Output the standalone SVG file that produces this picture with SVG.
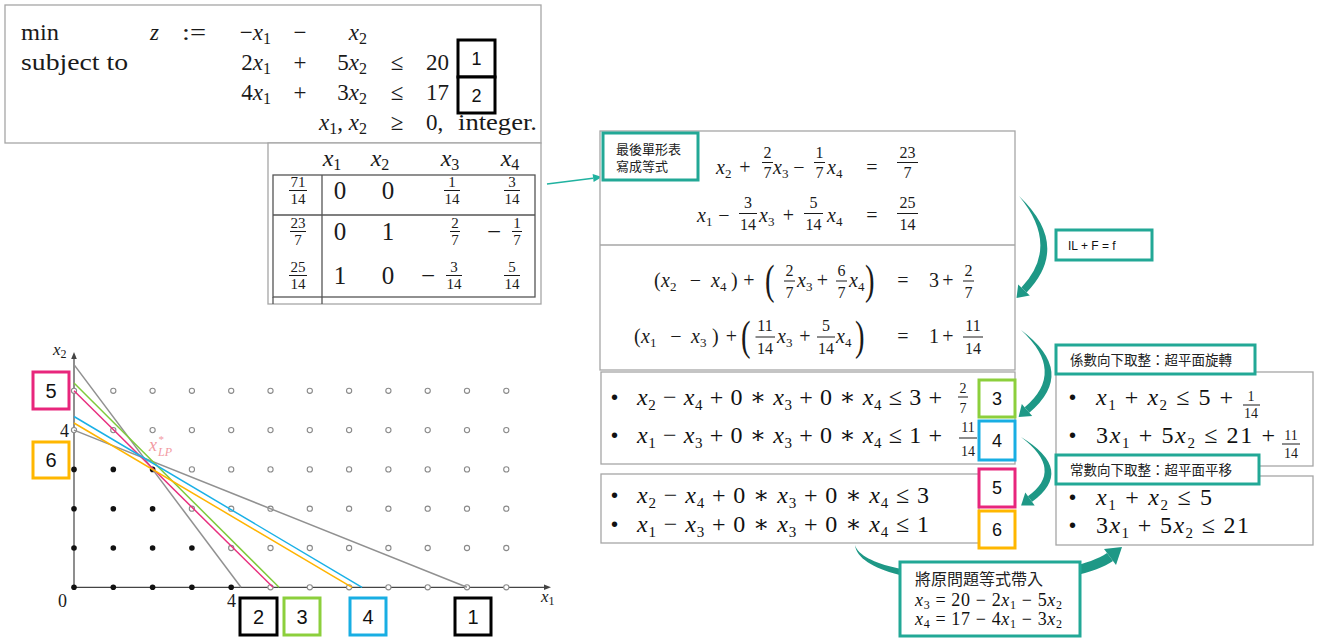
<svg xmlns="http://www.w3.org/2000/svg" width="1322" height="641" viewBox="0 0 1322 641">
<style>
.cm{font-family:"Liberation Serif","DejaVu Serif",serif;fill:#1a1a1a}
.it{font-style:italic}
.sans{font-family:"Liberation Sans",Arial,sans-serif;fill:#111}
.cjk{font-family:"Noto Sans CJK TC","Noto Sans CJK SC",sans-serif;fill:#222}
.gbox{fill:#fff;stroke:#a6a6a6;stroke-width:1.3}
.tbox{fill:#fff;stroke:#22a896;stroke-width:3}
.nb{fill:#fff;stroke-width:3}
.fb{stroke:#1a1a1a;stroke-width:1}
.tl{stroke:#555;stroke-width:1.3;fill:none}
.oc{fill:#fff;stroke:#8a8a8a;stroke-width:1.1}
.bc{fill:#111}
.arr{fill:#1e9886}
.bm{font-family:"Liberation Serif","DejaVu Serif",serif;font-size:24px;fill:#111}
.f20{font-size:20px}
</style>
<rect width="1322" height="641" fill="#fff"/>

<g id="connectors">
  <line x1="547" y1="184" x2="593" y2="178.2" stroke="#20b2a0" stroke-width="1.5"/>
  <polygon points="602,177 593.6,182.1 592.6,174.1" fill="#20b2a0"/>
  <path class="arr" d="M1019,196 Q1071.5,246 1026.6,292.4 L1021.4,287.6 Q1060.5,246 1019,196 Z"/>
  <polygon class="arr" points="1029.8,295.4 1018.2,284.6 1016.5,298"/>
  <path class="arr" d="M1021,330 Q1077.5,372 1029.3,412.7 L1024.7,407.3 Q1066.5,372 1021,330 Z"/>
  <polygon class="arr" points="1032.2,416.1 1021.8,403.9 1018.6,417.1"/>
  <path class="arr" d="M1021,437 Q1075.5,470 1032.1,501.8 L1027.9,496.2 Q1064.5,470 1021,437 Z"/>
  <polygon class="arr" points="1034.7,505.5 1025.3,492.5 1021.1,505.5"/>
  <path class="arr" d="M855,545 C860,592 1062,596 1113,561 L1107,553 C1058,586 866,583 855,545 Z"/>
  <polygon class="arr" points="1116,565 1104,549 1122,547"/>
</g>

<g id="lp-model">
  <rect x="5" y="5" width="536" height="138" class="gbox"/>
  <g class="cm" font-size="23">
    <text x="21" y="40" textLength="38" lengthAdjust="spacingAndGlyphs">min</text>
    <text x="150" y="40" class="it">z</text>
    <text x="182" y="40" textLength="24" lengthAdjust="spacingAndGlyphs">:=</text>
    <text x="271" y="40" text-anchor="end">−<tspan class="it">x</tspan><tspan font-size="16" dy="4">1</tspan></text>
    <text x="300" y="40" text-anchor="middle">−</text>
    <text x="367" y="40" text-anchor="end"><tspan class="it">x</tspan><tspan font-size="16" dy="4">2</tspan></text>
    <text x="21" y="70" textLength="107" lengthAdjust="spacingAndGlyphs">subject to</text>
    <text x="271" y="70" text-anchor="end">2<tspan class="it">x</tspan><tspan font-size="16" dy="4">1</tspan></text>
    <text x="300" y="70" text-anchor="middle">+</text>
    <text x="367" y="70" text-anchor="end">5<tspan class="it">x</tspan><tspan font-size="16" dy="4">2</tspan></text>
    <text x="397" y="70" text-anchor="middle">≤</text>
    <text x="426" y="70">20</text>
    <text x="271" y="100" text-anchor="end">4<tspan class="it">x</tspan><tspan font-size="16" dy="4">1</tspan></text>
    <text x="300" y="100" text-anchor="middle">+</text>
    <text x="367" y="100" text-anchor="end">3<tspan class="it">x</tspan><tspan font-size="16" dy="4">2</tspan></text>
    <text x="397" y="100" text-anchor="middle">≤</text>
    <text x="426" y="100">17</text>
    <text x="367" y="130" text-anchor="end"><tspan class="it">x</tspan><tspan font-size="16" dy="4">1</tspan><tspan dy="-4">, </tspan><tspan class="it">x</tspan><tspan font-size="16" dy="4">2</tspan></text>
    <text x="397" y="130" text-anchor="middle">≥</text>
    <text x="426" y="130">0,</text>
    <text x="458" y="130" textLength="79" lengthAdjust="spacingAndGlyphs">integer.</text>
  </g>
  <rect x="458" y="40" width="37" height="37" class="nb" stroke="#000"/>
  <text x="476.5" y="65" class="sans" font-size="18" text-anchor="middle">1</text>
  <rect x="458" y="77" width="37" height="36" class="nb" stroke="#000"/>
  <text x="476.5" y="102" class="sans" font-size="18" text-anchor="middle">2</text>
</g>

<g id="tableau">
  <rect x="268" y="143" width="273" height="161" class="gbox"/>
  <rect x="273" y="175" width="262" height="122" class="tl"/>
  <line x1="273" y1="215" x2="535" y2="215" class="tl"/>
  <line x1="322" y1="175" x2="322" y2="304" class="tl"/>
  <line x1="273" y1="297" x2="273" y2="304" class="tl"/>
  <g class="cm" font-size="24" text-anchor="middle">
    <text x="332" y="166"><tspan class="it">x</tspan><tspan font-size="16" dy="4">1</tspan></text>
    <text x="380" y="166"><tspan class="it">x</tspan><tspan font-size="16" dy="4">2</tspan></text>
    <text x="450" y="166"><tspan class="it">x</tspan><tspan font-size="16" dy="4">3</tspan></text>
    <text x="510" y="166"><tspan class="it">x</tspan><tspan font-size="16" dy="4">4</tspan></text>
  </g>
  <g class="cm" font-size="25" text-anchor="middle">
    <text x="340" y="199">0</text><text x="388" y="199">0</text>
    <text x="340" y="240">0</text><text x="388" y="240">1</text><text x="494" y="240">−</text>
    <text x="340" y="284">1</text><text x="388" y="284">0</text><text x="428" y="284">−</text>
  </g>
  <g class="cm" font-size="15" text-anchor="middle">
    <text x="298" y="187">71</text><text x="298" y="204">14</text>
    <text x="452" y="187">1</text><text x="452" y="204">14</text>
    <text x="512" y="187">3</text><text x="512" y="204">14</text>
    <text x="298" y="228">23</text><text x="298" y="245">7</text>
    <text x="455" y="228">2</text><text x="455" y="245">7</text>
    <text x="517" y="228">1</text><text x="517" y="245">7</text>
    <text x="298" y="272">25</text><text x="298" y="289">14</text>
    <text x="454" y="272">3</text><text x="454" y="289">14</text>
    <text x="512" y="272">5</text><text x="512" y="289">14</text>
  </g>
  <g class="fb">
    <line x1="289" y1="190.5" x2="307" y2="190.5"/><line x1="444" y1="190.5" x2="460" y2="190.5"/><line x1="504" y1="190.5" x2="520" y2="190.5"/>
    <line x1="290" y1="231.5" x2="306" y2="231.5"/><line x1="450" y1="231.5" x2="460" y2="231.5"/><line x1="512" y1="231.5" x2="522" y2="231.5"/>
    <line x1="289" y1="275.5" x2="307" y2="275.5"/><line x1="446" y1="275.5" x2="462" y2="275.5"/><line x1="504" y1="275.5" x2="520" y2="275.5"/>
  </g>
</g>

<g id="equations">
  <rect x="600" y="131" width="415" height="239" class="gbox"/>
  <line x1="600" y1="245" x2="1015" y2="245" stroke="#a6a6a6" stroke-width="1.3"/>
  <g class="cm f20">
    <text x="716" y="174"><tspan class="it">x</tspan><tspan font-size="13" dy="4">2</tspan></text>
    <text x="745" y="174" text-anchor="middle">+</text>
    <text x="773" y="174"><tspan class="it">x</tspan><tspan font-size="13" dy="4">3</tspan></text>
    <text x="799" y="174" text-anchor="middle">−</text>
    <text x="827" y="174"><tspan class="it">x</tspan><tspan font-size="13" dy="4">4</tspan></text>
    <text x="872" y="174" text-anchor="middle">=</text>
    <text x="697" y="222"><tspan class="it">x</tspan><tspan font-size="13" dy="4">1</tspan></text>
    <text x="724" y="222" text-anchor="middle">−</text>
    <text x="759" y="222"><tspan class="it">x</tspan><tspan font-size="13" dy="4">3</tspan></text>
    <text x="788.5" y="222" text-anchor="middle">+</text>
    <text x="827" y="222"><tspan class="it">x</tspan><tspan font-size="13" dy="4">4</tspan></text>
    <text x="872" y="222" text-anchor="middle">=</text>
    <text x="654" y="287">(</text>
    <text x="661" y="287"><tspan class="it">x</tspan><tspan font-size="13" dy="4">2</tspan></text>
    <text x="695.5" y="287" text-anchor="middle">−</text>
    <text x="711" y="287"><tspan class="it">x</tspan><tspan font-size="13" dy="4">4</tspan></text>
    <text x="731" y="287">)</text>
    <text x="749" y="287" text-anchor="middle">+</text>
    <text x="797" y="287"><tspan class="it">x</tspan><tspan font-size="13" dy="4">3</tspan></text>
    <text x="822.5" y="287" text-anchor="middle">+</text>
    <text x="849" y="287"><tspan class="it">x</tspan><tspan font-size="13" dy="4">4</tspan></text>
    <text x="903" y="287" text-anchor="middle">=</text>
    <text x="929" y="287">3</text>
    <text x="948" y="287" text-anchor="middle">+</text>
    <text x="634" y="343">(</text>
    <text x="641" y="343"><tspan class="it">x</tspan><tspan font-size="13" dy="4">1</tspan></text>
    <text x="676" y="343" text-anchor="middle">−</text>
    <text x="691" y="343"><tspan class="it">x</tspan><tspan font-size="13" dy="4">3</tspan></text>
    <text x="712" y="343">)</text>
    <text x="731.5" y="343" text-anchor="middle">+</text>
    <text x="777" y="343"><tspan class="it">x</tspan><tspan font-size="13" dy="4">3</tspan></text>
    <text x="805" y="343" text-anchor="middle">+</text>
    <text x="836" y="343"><tspan class="it">x</tspan><tspan font-size="13" dy="4">4</tspan></text>
    <text x="903" y="343" text-anchor="middle">=</text>
    <text x="929" y="343">1</text>
    <text x="948" y="343" text-anchor="middle">+</text>
  </g>
  <g class="cm" font-size="22">
    <text transform="translate(765,294) scale(1.3,1.9)">(</text>
    <text transform="translate(865,294) scale(1.3,1.9)">)</text>
    <text transform="translate(741,350) scale(1.3,1.9)">(</text>
    <text transform="translate(855,350) scale(1.3,1.9)">)</text>
  </g>
  <g class="cm" font-size="16" text-anchor="middle">
    <text x="767.5" y="158">2</text><text x="767.5" y="178">7</text>
    <text x="819.5" y="158">1</text><text x="819.5" y="178">7</text>
    <text x="907.5" y="158">23</text><text x="907.5" y="178">7</text>
    <text x="748" y="208">3</text><text x="748" y="230">14</text>
    <text x="813.5" y="208">5</text><text x="813.5" y="230">14</text>
    <text x="907.5" y="208">25</text><text x="907.5" y="230">14</text>
    <text x="789.5" y="276">2</text><text x="789.5" y="298">7</text>
    <text x="841.5" y="276">6</text><text x="841.5" y="298">7</text>
    <text x="968.5" y="276">2</text><text x="968.5" y="298">7</text>
    <text x="765" y="331">11</text><text x="765" y="354">14</text>
    <text x="826" y="331">5</text><text x="826" y="354">14</text>
    <text x="973" y="331">11</text><text x="973" y="354">14</text>
  </g>
  <g class="fb">
    <line x1="762" y1="162.5" x2="773" y2="162.5"/><line x1="814" y1="162.5" x2="825" y2="162.5"/><line x1="897" y1="162.5" x2="918" y2="162.5"/>
    <line x1="739" y1="213.5" x2="757" y2="213.5"/><line x1="804" y1="213.5" x2="823" y2="213.5"/><line x1="897" y1="213.5" x2="918" y2="213.5"/>
    <line x1="784" y1="281" x2="795" y2="281"/><line x1="836" y1="281" x2="847" y2="281"/><line x1="963" y1="281" x2="974" y2="281"/>
    <line x1="755.5" y1="337" x2="775" y2="337"/><line x1="817" y1="337" x2="835" y2="337"/><line x1="963" y1="337" x2="983" y2="337"/>
  </g>
</g>

<g id="label-final-tableau">
  <rect x="603" y="133" width="95" height="47" class="tbox"/>
  <text x="616" y="154" class="cjk" font-size="13">最後單形表</text>
  <text x="616" y="171" class="cjk" font-size="13">寫成等式</text>
</g>

<g id="label-il">
  <rect x="1056" y="230" width="96" height="30" class="tbox"/>
  <text x="1068" y="250" class="sans" font-size="12" fill="#222">IL + F = f</text>
</g>

<g id="cuts-fractional">
  <rect x="601" y="372" width="414" height="92" class="gbox"/>
  <text x="611" y="404" class="sans" font-size="20">•</text>
  <text x="611" y="442" class="sans" font-size="20">•</text>
  <text x="637" y="405" class="bm" textLength="305" lengthAdjust="spacing"><tspan class="it">x</tspan><tspan font-size="15" dy="5">2</tspan><tspan dy="-5"> − </tspan><tspan class="it">x</tspan><tspan font-size="15" dy="5">4</tspan><tspan dy="-5"> + 0 ∗ </tspan><tspan class="it">x</tspan><tspan font-size="15" dy="5">3</tspan><tspan dy="-5"> + 0 ∗ </tspan><tspan class="it">x</tspan><tspan font-size="15" dy="5">4</tspan><tspan dy="-5"> ≤ 3 +</tspan></text>
  <text x="637" y="443" class="bm" textLength="305" lengthAdjust="spacing"><tspan class="it">x</tspan><tspan font-size="15" dy="5">1</tspan><tspan dy="-5"> − </tspan><tspan class="it">x</tspan><tspan font-size="15" dy="5">3</tspan><tspan dy="-5"> + 0 ∗ </tspan><tspan class="it">x</tspan><tspan font-size="15" dy="5">3</tspan><tspan dy="-5"> + 0 ∗ </tspan><tspan class="it">x</tspan><tspan font-size="15" dy="5">4</tspan><tspan dy="-5"> ≤ 1 +</tspan></text>
  <g class="cm" font-size="14" text-anchor="middle">
    <text x="963" y="393">2</text><text x="963" y="413">7</text>
    <text x="968" y="432">11</text><text x="968" y="456">14</text>
  </g>
  <line x1="958" y1="397" x2="968" y2="397" class="fb"/>
  <line x1="959" y1="438" x2="977" y2="438" class="fb"/>
</g>

<g id="cuts-integer">
  <rect x="601" y="474" width="378" height="69" class="gbox"/>
  <text x="611" y="502" class="sans" font-size="20">•</text>
  <text x="611" y="531" class="sans" font-size="20">•</text>
  <text x="637" y="503" class="bm" textLength="292" lengthAdjust="spacing"><tspan class="it">x</tspan><tspan font-size="15" dy="5">2</tspan><tspan dy="-5"> − </tspan><tspan class="it">x</tspan><tspan font-size="15" dy="5">4</tspan><tspan dy="-5"> + 0 ∗ </tspan><tspan class="it">x</tspan><tspan font-size="15" dy="5">3</tspan><tspan dy="-5"> + 0 ∗ </tspan><tspan class="it">x</tspan><tspan font-size="15" dy="5">4</tspan><tspan dy="-5"> ≤ 3</tspan></text>
  <text x="637" y="532" class="bm" textLength="292" lengthAdjust="spacing"><tspan class="it">x</tspan><tspan font-size="15" dy="5">1</tspan><tspan dy="-5"> − </tspan><tspan class="it">x</tspan><tspan font-size="15" dy="5">3</tspan><tspan dy="-5"> + 0 ∗ </tspan><tspan class="it">x</tspan><tspan font-size="15" dy="5">3</tspan><tspan dy="-5"> + 0 ∗ </tspan><tspan class="it">x</tspan><tspan font-size="15" dy="5">4</tspan><tspan dy="-5"> ≤ 1</tspan></text>
</g>

<g id="tags-right">
  <rect x="979" y="380" width="36" height="37" class="nb" stroke="#8ccf3c"/>
  <text x="997" y="405" class="sans" font-size="18" text-anchor="middle">3</text>
  <rect x="979" y="421" width="36" height="39" class="nb" stroke="#18aee3"/>
  <text x="997" y="447" class="sans" font-size="18" text-anchor="middle">4</text>
  <rect x="979" y="469" width="36" height="38" class="nb" stroke="#e8267c"/>
  <text x="997" y="494" class="sans" font-size="18" text-anchor="middle">5</text>
  <rect x="979" y="511" width="36" height="37" class="nb" stroke="#ffb700"/>
  <text x="997" y="536" class="sans" font-size="18" text-anchor="middle">6</text>
</g>

<g id="cuts-x-rotated">
  <rect x="1056" y="372" width="257" height="94" class="gbox"/>
  <text x="1069" y="404" class="sans" font-size="20">•</text>
  <text x="1069" y="442" class="sans" font-size="20">•</text>
  <text x="1096" y="405" class="bm" textLength="137" lengthAdjust="spacing"><tspan class="it">x</tspan><tspan font-size="15" dy="5">1</tspan><tspan dy="-5"> + </tspan><tspan class="it">x</tspan><tspan font-size="15" dy="5">2</tspan><tspan dy="-5"> ≤ 5 +</tspan></text>
  <text x="1096" y="443" class="bm" textLength="179" lengthAdjust="spacing">3<tspan class="it">x</tspan><tspan font-size="15" dy="5">1</tspan><tspan dy="-5"> + 5</tspan><tspan class="it">x</tspan><tspan font-size="15" dy="5">2</tspan><tspan dy="-5"> ≤ 21 +</tspan></text>
  <g class="cm" font-size="14" text-anchor="middle">
    <text x="1251" y="401">1</text><text x="1251" y="418">14</text>
    <text x="1291" y="440">11</text><text x="1291" y="458">14</text>
  </g>
  <line x1="1243" y1="405" x2="1260" y2="405" class="fb"/>
  <line x1="1282" y1="444" x2="1300" y2="444" class="fb"/>
  <rect x="1056" y="345" width="199" height="29" class="tbox"/>
  <text x="1070" y="365" class="cjk" font-size="13.5">係數向下取整：超平面旋轉</text>
</g>

<g id="cuts-x-shifted">
  <rect x="1056" y="476" width="257" height="69" class="gbox"/>
  <text x="1069" y="504" class="sans" font-size="20">•</text>
  <text x="1069" y="532" class="sans" font-size="20">•</text>
  <text x="1096" y="505" class="bm" textLength="116" lengthAdjust="spacing"><tspan class="it">x</tspan><tspan font-size="15" dy="5">1</tspan><tspan dy="-5"> + </tspan><tspan class="it">x</tspan><tspan font-size="15" dy="5">2</tspan><tspan dy="-5"> ≤ 5</tspan></text>
  <text x="1096" y="533" class="bm" textLength="153" lengthAdjust="spacing">3<tspan class="it">x</tspan><tspan font-size="15" dy="5">1</tspan><tspan dy="-5"> + 5</tspan><tspan class="it">x</tspan><tspan font-size="15" dy="5">2</tspan><tspan dy="-5"> ≤ 21</tspan></text>
  <rect x="1056" y="455" width="203" height="29" class="tbox"/>
  <text x="1070" y="475" class="cjk" font-size="13.5">常數向下取整：超平面平移</text>
</g>

<g id="substitution">
  <rect x="900" y="562" width="180" height="74" class="tbox"/>
  <text x="915" y="585" class="cjk" font-size="16">將原問題等式帶入</text>
  <text x="915" y="606" class="bm" style="font-size:18px" textLength="147" lengthAdjust="spacing"><tspan class="it">x</tspan><tspan font-size="12" dy="3">3</tspan><tspan dy="-3"> = 20 − 2</tspan><tspan class="it">x</tspan><tspan font-size="12" dy="3">1</tspan><tspan dy="-3"> − 5</tspan><tspan class="it">x</tspan><tspan font-size="12" dy="3">2</tspan></text>
  <text x="915" y="625" class="bm" style="font-size:18px" textLength="147" lengthAdjust="spacing"><tspan class="it">x</tspan><tspan font-size="12" dy="3">4</tspan><tspan dy="-3"> = 17 − 4</tspan><tspan class="it">x</tspan><tspan font-size="12" dy="3">1</tspan><tspan dy="-3"> − 3</tspan><tspan class="it">x</tspan><tspan font-size="12" dy="3">2</tspan></text>
</g>

<g id="plot">
  <line x1="74" y1="587.3" x2="548" y2="587.3" stroke="#444" stroke-width="1.2"/>
  <polygon points="551,587.3 544,584.5 544,590.1" fill="#444"/>
  <line x1="74" y1="587.3" x2="74" y2="356" stroke="#444" stroke-width="1.2"/>
  <polygon points="74,352 71.2,359 76.8,359" fill="#444"/>
  <g>
    <circle class="bc" cx="74" cy="587.3" r="2.8"/><circle class="bc" cx="113.3" cy="587.3" r="2.8"/><circle class="bc" cx="152.6" cy="587.3" r="2.8"/><circle class="bc" cx="191.9" cy="587.3" r="2.8"/><circle class="bc" cx="231.2" cy="587.3" r="2.8"/>
    <circle class="bc" cx="74" cy="548" r="2.8"/><circle class="bc" cx="113.3" cy="548" r="2.8"/><circle class="bc" cx="152.6" cy="548" r="2.8"/><circle class="bc" cx="191.9" cy="548" r="2.8"/>
    <circle class="bc" cx="74" cy="508.7" r="2.8"/><circle class="bc" cx="113.3" cy="508.7" r="2.8"/><circle class="bc" cx="152.6" cy="508.7" r="2.8"/>
    <circle class="bc" cx="74" cy="469.4" r="2.8"/><circle class="bc" cx="113.3" cy="469.4" r="2.8"/><circle class="bc" cx="152.6" cy="469.4" r="2.8"/>
  </g>
  <g>
    <circle class="oc" cx="270.5" cy="587.3" r="2.6"/><circle class="oc" cx="309.8" cy="587.3" r="2.6"/><circle class="oc" cx="349.1" cy="587.3" r="2.6"/><circle class="oc" cx="388.4" cy="587.3" r="2.6"/><circle class="oc" cx="427.7" cy="587.3" r="2.6"/><circle class="oc" cx="467" cy="587.3" r="2.6"/><circle class="oc" cx="506.3" cy="587.3" r="2.6"/>
    <circle class="oc" cx="231.2" cy="548" r="2.6"/><circle class="oc" cx="270.5" cy="548" r="2.6"/><circle class="oc" cx="309.8" cy="548" r="2.6"/><circle class="oc" cx="349.1" cy="548" r="2.6"/><circle class="oc" cx="388.4" cy="548" r="2.6"/><circle class="oc" cx="427.7" cy="548" r="2.6"/><circle class="oc" cx="467" cy="548" r="2.6"/><circle class="oc" cx="506.3" cy="548" r="2.6"/>
    <circle class="oc" cx="191.9" cy="508.7" r="2.6"/><circle class="oc" cx="231.2" cy="508.7" r="2.6"/><circle class="oc" cx="270.5" cy="508.7" r="2.6"/><circle class="oc" cx="309.8" cy="508.7" r="2.6"/><circle class="oc" cx="349.1" cy="508.7" r="2.6"/><circle class="oc" cx="388.4" cy="508.7" r="2.6"/><circle class="oc" cx="427.7" cy="508.7" r="2.6"/><circle class="oc" cx="467" cy="508.7" r="2.6"/><circle class="oc" cx="506.3" cy="508.7" r="2.6"/>
    <circle class="oc" cx="191.9" cy="469.4" r="2.6"/><circle class="oc" cx="231.2" cy="469.4" r="2.6"/><circle class="oc" cx="270.5" cy="469.4" r="2.6"/><circle class="oc" cx="309.8" cy="469.4" r="2.6"/><circle class="oc" cx="349.1" cy="469.4" r="2.6"/><circle class="oc" cx="388.4" cy="469.4" r="2.6"/><circle class="oc" cx="427.7" cy="469.4" r="2.6"/><circle class="oc" cx="467" cy="469.4" r="2.6"/><circle class="oc" cx="506.3" cy="469.4" r="2.6"/>
    <circle class="oc" cx="74" cy="430.1" r="2.6"/><circle class="oc" cx="113.3" cy="430.1" r="2.6"/><circle class="oc" cx="152.6" cy="430.1" r="2.6"/><circle class="oc" cx="191.9" cy="430.1" r="2.6"/><circle class="oc" cx="231.2" cy="430.1" r="2.6"/><circle class="oc" cx="270.5" cy="430.1" r="2.6"/><circle class="oc" cx="309.8" cy="430.1" r="2.6"/><circle class="oc" cx="349.1" cy="430.1" r="2.6"/><circle class="oc" cx="388.4" cy="430.1" r="2.6"/><circle class="oc" cx="427.7" cy="430.1" r="2.6"/><circle class="oc" cx="467" cy="430.1" r="2.6"/><circle class="oc" cx="506.3" cy="430.1" r="2.6"/>
    <circle class="oc" cx="74" cy="390.8" r="2.6"/><circle class="oc" cx="113.3" cy="390.8" r="2.6"/><circle class="oc" cx="152.6" cy="390.8" r="2.6"/><circle class="oc" cx="191.9" cy="390.8" r="2.6"/><circle class="oc" cx="231.2" cy="390.8" r="2.6"/><circle class="oc" cx="270.5" cy="390.8" r="2.6"/><circle class="oc" cx="309.8" cy="390.8" r="2.6"/><circle class="oc" cx="349.1" cy="390.8" r="2.6"/><circle class="oc" cx="388.4" cy="390.8" r="2.6"/><circle class="oc" cx="427.7" cy="390.8" r="2.6"/><circle class="oc" cx="467" cy="390.8" r="2.6"/><circle class="oc" cx="506.3" cy="390.8" r="2.6"/>
  </g>
  <g stroke-width="1.5" fill="none">
    <line x1="74" y1="364.6" x2="241" y2="587.3" stroke="#919191"/>
    <line x1="74" y1="430.1" x2="467" y2="587.3" stroke="#919191"/>
    <line x1="74" y1="383" x2="279" y2="587.3" stroke="#7fcb3c"/>
    <line x1="74" y1="390.8" x2="273" y2="587.3" stroke="#e8307f"/>
    <line x1="74" y1="416.5" x2="362" y2="587.3" stroke="#1ab0e6"/>
    <line x1="74" y1="423" x2="352" y2="587.3" stroke="#ffb400"/>
  </g>
  <g class="cm">
    <text x="53" y="355" font-size="17"><tspan class="it">x</tspan><tspan font-size="12" dy="3">2</tspan></text>
    <text x="541" y="602" font-size="17"><tspan class="it">x</tspan><tspan font-size="12" dy="3">1</tspan></text>
    <text x="60" y="437" font-size="18">4</text>
    <text x="58" y="607" font-size="18">0</text>
    <text x="227" y="607" font-size="18">4</text>
  </g>
  <g class="cm it" style="fill:#f29aa2">
    <text x="149" y="451" font-size="18">x</text>
    <text x="158" y="443" font-size="11">*</text>
    <text x="158" y="456" font-size="12">LP</text>
  </g>
</g>

<g id="tags-plot">
  <rect x="33" y="372" width="36" height="37" class="nb" stroke="#e8267c"/>
  <text x="51" y="398" class="sans" font-size="20" text-anchor="middle">5</text>
  <rect x="33" y="442" width="36" height="36" class="nb" stroke="#ffb700"/>
  <text x="51" y="467" class="sans" font-size="20" text-anchor="middle">6</text>
  <rect x="240" y="598" width="37" height="37" class="nb" stroke="#000"/>
  <text x="258.5" y="624" class="sans" font-size="20" text-anchor="middle">2</text>
  <rect x="284" y="598" width="36" height="37" class="nb" stroke="#8ccf3c"/>
  <text x="302" y="624" class="sans" font-size="20" text-anchor="middle">3</text>
  <rect x="350" y="598" width="36" height="37" class="nb" stroke="#18aee3"/>
  <text x="368" y="624" class="sans" font-size="20" text-anchor="middle">4</text>
  <rect x="455" y="598" width="36" height="37" class="nb" stroke="#000"/>
  <text x="473" y="624" class="sans" font-size="20" text-anchor="middle">1</text>
</g>
</svg>
